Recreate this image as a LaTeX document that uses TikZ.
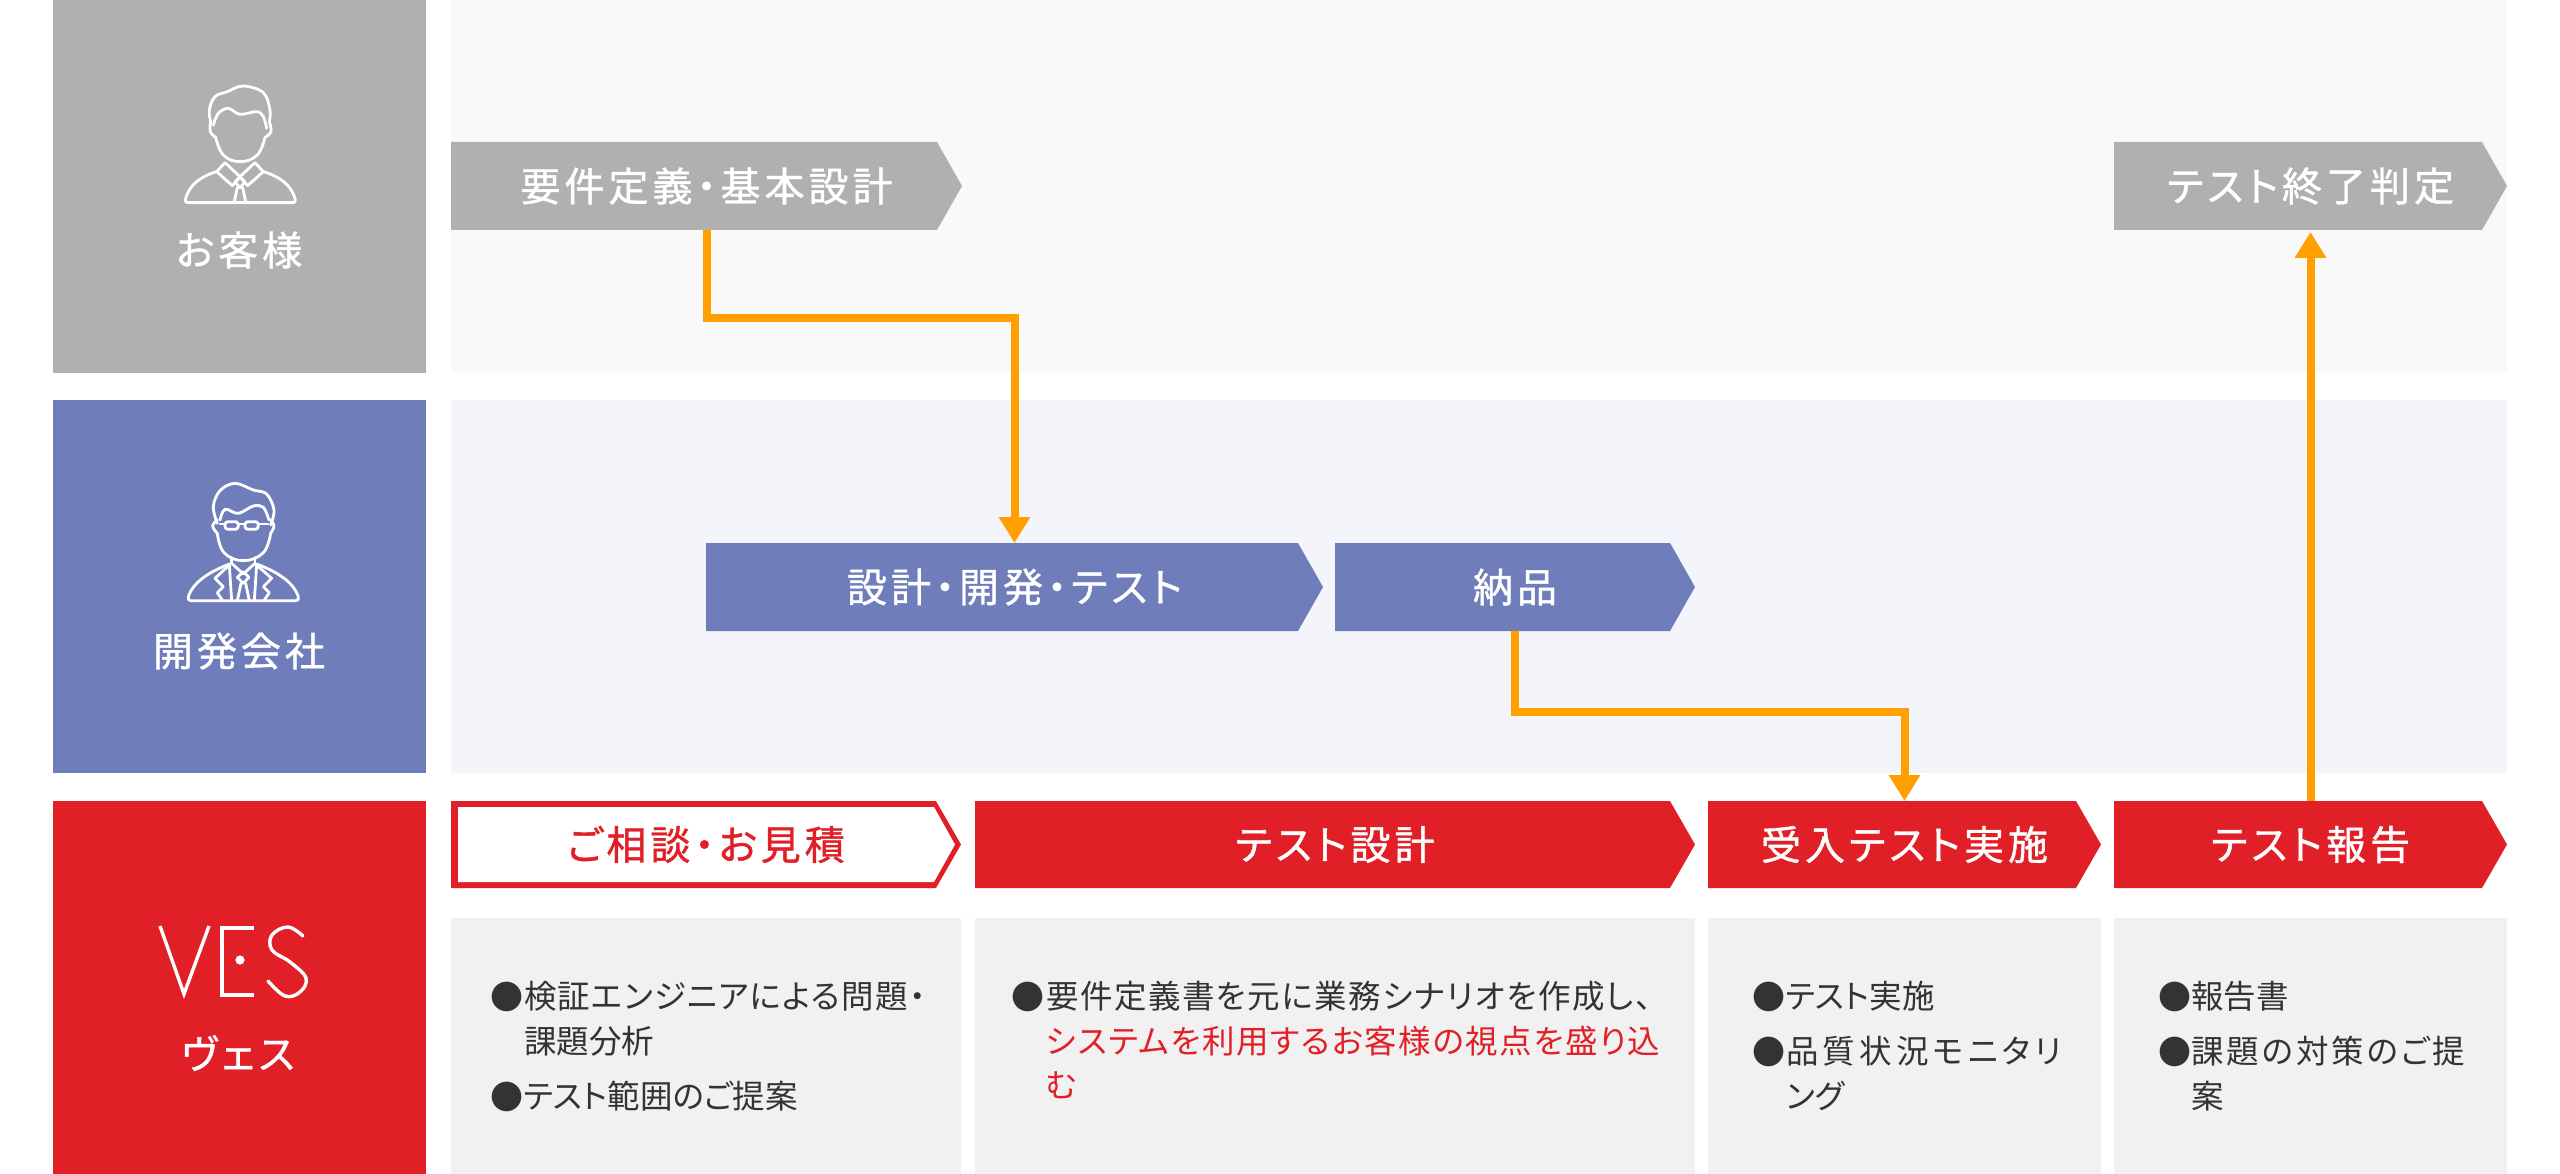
\documentclass[tikz,border=0pt]{standalone}
\usepackage{fontspec}
\usetikzlibrary{arrows.meta}
\newfontfamily\jp[RawFeature=+palt]{Noto Sans CJK JP}
\newfontfamily\jpfw{Noto Sans CJK JP}
\definecolor{cgray}{HTML}{B0B0B0}
\definecolor{cblue}{HTML}{6F7DBB}
\definecolor{cred}{HTML}{E11F27}
\definecolor{corange}{HTML}{FF9F00}
\definecolor{bandA}{HTML}{F9F9F9}
\definecolor{bandB}{HTML}{F3F5FA}
\definecolor{boxg}{HTML}{F1F1F1}
\definecolor{ink}{HTML}{333333}
\tikzset{
  head/.style={inner sep=0pt,outer sep=0pt,align=center,text=white,font=\jp\fontsize{40}{40}\selectfont\addfontfeatures{LetterSpace=10,FakeBold=1}},
  line/.style={inner sep=0pt,outer sep=0pt,anchor=base west,text=ink,font=\jp\fontsize{32.5}{32.5}\selectfont},
  lineA/.style={line,font=\jp\fontsize{32.5}{32.5}\selectfont\addfontfeatures{LetterSpace=4}},
  lineB/.style={line,font=\jp\fontsize{32.5}{32.5}\selectfont\addfontfeatures{LetterSpace=4.8}},
  lineC/.style={line,font=\jp\fontsize{32.5}{32.5}\selectfont\addfontfeatures{LetterSpace=13}},
  lineD/.style={line,font=\jp\fontsize{32.5}{32.5}\selectfont\addfontfeatures{LetterSpace=9}},
  dot/.style={inner sep=0pt,outer sep=0pt,anchor=base west,text=ink,font=\jpfw\fontsize{33}{33}\selectfont},
  conn/.style={draw=corange,line width=8pt,-{Triangle[width=30pt,length=26pt]}},
  icon/.style={draw=white,line width=2.8pt,line cap=round,line join=round},
  logo/.style={draw=white,line width=3.4pt},
}
% name, x0, x1, y0, y1, colour, text
\newcommand{\chev}[7]{%
  \fill[#6] (#2,#4) -- ({#3-25},#4) -- (#3,{(#4+#5)/2}) -- ({#3-25},#5) -- (#2,#5) -- cycle;
  \node[head,minimum width={#3pt-#2pt},minimum height={#5pt-#4pt}] (#1) at ({(#2+#3)/2},{(#4+#5)/2}) {#7};
}
\begin{document}
\begin{tikzpicture}[x=1pt,y=-1pt]
\useasboundingbox (0,0) rectangle (2560,1174);
\fill[white] (0,0) rectangle (2560,1174);
% side blocks
\fill[cgray] (53,0) rectangle (426,373);
\fill[cblue] (53,400) rectangle (426,773);
\fill[cred] (53,801) rectangle (426,1174);
% bands
\fill[bandA] (451,0) rectangle (2507,373);
\fill[bandB] (451,400) rectangle (2507,773);
% detail boxes
\fill[boxg] (451,918) rectangle (961,1174);
\fill[boxg] (975,918) rectangle (1695,1174);
\fill[boxg] (1708,918) rectangle (2101,1174);
\fill[boxg] (2114,918) rectangle (2507,1174);
% side labels
\node[head] (lblA) at (239,250) {お客様};
\node[head] (lblB) at (239,651) {開発会社};
\node[head] (lblC) at (238,1053) {ヴェス};
% chevrons
\chev{req}{451}{962}{142}{230}{cgray}{要件定義・基本設計}
\chev{end}{2114}{2507}{142}{230}{cgray}{テスト終了判定}
\chev{dev}{706}{1323}{543}{631}{cblue}{設計・開発・テスト}
\chev{dlv}{1335}{1695}{543}{631}{cblue}{納品}
\chev{cons}{451}{961}{801}{888}{cred}{}
\fill[white] (458,807) -- (934,807) -- (955,844.5) -- (934,882) -- (458,882) -- cycle;
\node[head,text=cred] (consT) at (706,844.5) {ご相談・お見積};
\chev{tdes}{975}{1695}{801}{888}{cred}{テスト設計}
\chev{uat}{1708}{2101}{801}{888}{cred}{受入テスト実施}
\chev{rep}{2114}{2507}{801}{888}{cred}{テスト報告}
% connectors
\coordinate (mA) at (860,318);
\coordinate (mB) at (1700,712);
\draw[conn] (req.south) |- (mA) -| (dev.north);
\draw[conn] (dlv.south) |- (mB) -| (uat.north);
\draw[conn,shorten >=2pt] (rep.north) -- (end.south);
% detail texts
\node[dot] (d1a) at (490,1009.5) {●};
\node[lineA] (t1a) at (524,1008.5) {検証エンジニアによる問題・};
\node[line] (t1b) at (524,1053.5) {課題分析};
\node[dot] (d1c) at (490,1109.5) {●};
\node[line] (t1c) at (524,1108.5) {テスト範囲のご提案};
\node[dot] (d2a) at (1011,1009.5) {●};
\node[lineB] (t2a) at (1046,1008.5) {要件定義書を元に業務シナリオを作成し、};
\node[lineB,text=cred] (t2b) at (1046,1053.5) {システムを利用するお客様の視点を盛り込};
\node[line,text=cred] (t2c) at (1046,1097.5) {む};
\node[dot] (d3a) at (1752,1009.5) {●};
\node[line] (t3a) at (1786,1008.5) {テスト実施};
\node[dot] (d3b) at (1752,1064.5) {●};
\node[lineC] (t3b) at (1786,1063.5) {品質状況モニタリ};
\node[line] (t3c) at (1786,1108.5) {ング};
\node[dot] (d4a) at (2158,1009.5) {●};
\node[line] (t4a) at (2191,1008.5) {報告書};
\node[dot] (d4b) at (2158,1064.5) {●};
\node[lineD] (t4b) at (2191,1063.5) {課題の対策のご提};
\node[line] (t4c) at (2191,1108.5) {案};
% customer icon
\begin{scope}[shift={(150,60)},x=0.3333pt,y=-0.3333pt]
\draw[icon] plot[smooth,tension=.6] coordinates {(182,185) (178,150) (195,110) (232,95) (280,78) (340,98) (360,150) (358,185)};
\draw[icon] plot[smooth,tension=.6] coordinates {(190,195) (205,160) (235,145) (270,163) (320,155) (340,170) (350,205)};
\draw[icon] plot[smooth,tension=.7] coordinates {(182,185) (181,215) (197,232)};
\draw[icon] plot[smooth,tension=.7] coordinates {(358,185) (363,215) (345,232)};
\draw[icon] plot[smooth,tension=.7] coordinates {(197,232) (220,285) (270,305) (322,285) (345,232)};
\draw[icon] (225,308) -- (200,335) -- (247,377) -- (270,350) -- (225,308);
\draw[icon] (315,308) -- (340,335) -- (293,377) -- (270,350) -- (315,308);
\draw[icon] (270,350) -- (255,367) -- (270,383) -- (285,367) -- cycle;
\draw[icon] (253,425) -- (262,383) (287,425) -- (278,383);
\draw[icon] (200,335) .. controls (150,350) and (118,375) .. (106,418) .. controls (104,425) and (108,428) .. (114,428) -- (428,428) .. controls (434,428) and (438,425) .. (436,418) .. controls (424,375) and (390,350) .. (340,335);
\end{scope}
% developer icon
\begin{scope}[shift={(160,470)},x=0.3333pt,y=-0.3333pt]
\draw[icon] plot[smooth,tension=.6] coordinates {(172,160) (160,110) (180,62) (225,40) (280,60) (320,72) (342,120) (332,165)};
\draw[icon] plot[smooth,tension=.6] coordinates {(180,150) (195,118) (235,130) (280,108) (310,112) (327,150)};
\draw[icon] plot[smooth,tension=.7] coordinates {(172,150) (158,168) (172,190)};
\draw[icon] plot[smooth,tension=.7] coordinates {(332,150) (342,168) (332,190)};
\draw[icon] plot[smooth,tension=.7] coordinates {(172,190) (192,248) (250,272) (310,248) (332,190)};
\draw[icon,rounded corners=3pt] (195,155) rectangle (235,178);
\draw[icon,rounded corners=3pt] (255,155) rectangle (295,178);
\draw[icon] (235,162) -- (255,162) (180,162) -- (195,162) (295,162) -- (325,162);
\draw[icon] (215,262) -- (215,280) (285,262) -- (285,280);
\draw[icon] (208,282) .. controls (150,305) and (100,335) .. (85,380) .. controls (83,388) and (86,392) .. (92,392) -- (408,392) .. controls (414,392) and (417,388) .. (415,380) .. controls (400,335) and (350,305) .. (290,282);
\draw[icon] (208,285) -- (165,325) -- (190,350) -- (172,368) -- (188,392);
\draw[icon] (290,285) -- (335,325) -- (310,350) -- (328,368) -- (312,392);
\draw[icon] (208,285) -- (215,392) (290,285) -- (283,392);
\draw[icon] (215,280) -- (250,312) -- (285,280);
\draw[icon] (250,305) -- (232,322) -- (250,340) -- (267,322) -- cycle;
\draw[icon] (243,340) -- (232,392) (257,340) -- (268,392);
\end{scope}
% VES logotype
\draw[logo,line join=miter] (160,926) -- (184,994) -- (209,926);
\draw[logo] (254,928) -- (222,928) -- (222,995) -- (254,995);
\fill[white] (240,960) circle (4.6);
\draw[logo,line cap=round] plot[smooth,tension=.65] coordinates {(303,936) (288,927) (272,935) (272,950) (290,962) (306,978) (300,992) (285,996) (268,981)};
\end{tikzpicture}
\end{document}
